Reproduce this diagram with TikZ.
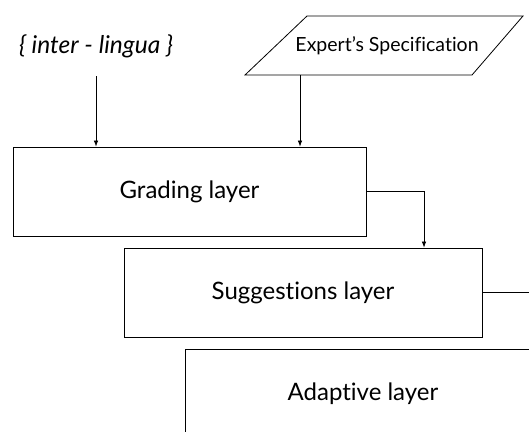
\documentclass[tikz,border=0pt]{standalone}
\usepackage{fontspec}
\setmainfont[RawFeature=-liga]{Lato}
\usetikzlibrary{arrows.meta}

\begin{document}
\begin{tikzpicture}[x=1pt, y=1pt, yscale=-1, xscale=1,
  layer/.style={draw, line width=0.8pt, minimum width=#1, minimum height=89pt, inner sep=0pt, font=\fontsize{24}{28}\selectfont},
  feed/.style={draw, line width=0.7pt, -{Latex[length=6pt, width=4.5pt]}}]
\useasboundingbox (0, 0) rectangle (529, 431);
\clip (0, 0) rectangle (529, 431);
% inputs
\node (lingua) at (96, 46) [inner sep=0.75pt, font=\fontsize{24.5}{28}\selectfont\itshape] {\{ inter - lingua \}};
\coordinate (linguaout) at (96, 76);
\draw [line width=0.8pt] (307, 16) -- (523, 16) -- (472, 75) -- (245, 75) -- cycle;
\node (expert) at (387, 46) [inner sep=0.75pt, font=\fontsize{19.5}{22}\selectfont] {Expert’s Specification};
\coordinate (expertout) at (300, 75);
% layers
\node (grading) at (189.5, 191.5) [layer=353pt] {Grading layer};
\node (suggest) at (303, 292.5) [layer=358pt] {Suggestions layer};
\node (adaptive) at (363, 393.5) [layer=356pt] {Adaptive layer};
% connectors
\draw [feed] (linguaout) -- (linguaout |- grading.north);
\draw [feed] (expertout) -- (expertout |- grading.north);
\draw [feed] (grading.east) -| (424, 0 |- suggest.north);
\draw [line width=0.7pt] (suggest.east) -- ++(60, 0);
\end{tikzpicture}
\end{document}
